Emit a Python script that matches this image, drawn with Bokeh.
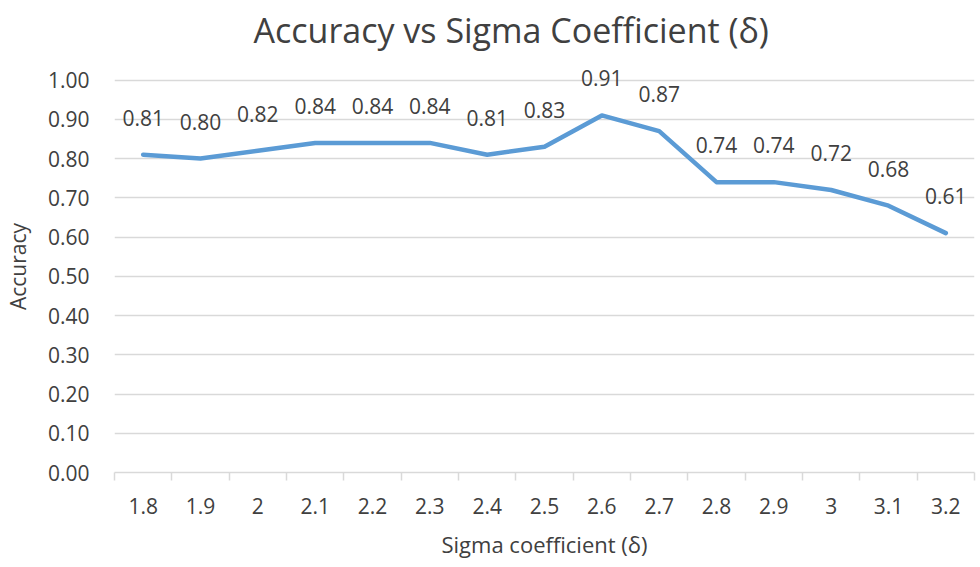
from bokeh.plotting import figure
from bokeh.models import FixedTicker, ColumnDataSource, LabelSet, Range1d, NumeralTickFormatter
from bokeh.core.properties import value
from bokeh.embed import file_html
from bokeh.resources import INLINE

categories = ["1.8", "1.9", "2", "2.1", "2.2", "2.3", "2.4", "2.5", "2.6", "2.7", "2.8", "2.9", "3", "3.1", "3.2"]
accuracy = [0.81, 0.80, 0.82, 0.84, 0.84, 0.84, 0.81, 0.83, 0.91, 0.87, 0.74, 0.74, 0.72, 0.68, 0.61]
y_ticks = [0.0, 0.1, 0.2, 0.3, 0.4, 0.5, 0.6, 0.7, 0.8, 0.9, 1.0]

FONT = "Open Sans"
TXT = "#404040"
GRID = "#d9d9d9"

xs = [i + 0.5 for i in range(len(categories))]
src = ColumnDataSource(dict(x=xs, y=accuracy, lab=["%.2f" % v for v in accuracy]))

p = figure(width=980, height=567, output_backend="svg", toolbar_location=None,
           x_range=Range1d(0, len(categories)), y_range=Range1d(0, 1.05),
           min_border_left=108, min_border_right=6, min_border_top=59, min_border_bottom=95,
           title="Accuracy vs Sigma Coefficient (δ)")
p.outline_line_color = None
p.background_fill_color = "white"

p.title.text_font = FONT
p.title.text_font_size = "34px"
p.title.text_font_style = "normal"
p.title.text_color = TXT
p.title.align = "left"
p.title.vertical_align = "top"
p.title.standoff = 12
p.title.offset = 139

p.line("x", "y", source=src, line_color="#5B9BD5", line_width=4.5, line_join="round", line_cap="round")

labels = LabelSet(x="x", y="y", text="lab", source=src, y_offset=37, text_align="center",
                  text_baseline="middle", text_font=value(FONT), text_font_size=value("21px"),
                  text_color=TXT)
p.add_layout(labels)

# x axis
p.xaxis.ticker = FixedTicker(ticks=xs, minor_ticks=list(range(len(categories) + 1)))
p.xaxis.major_label_overrides = {x: c for x, c in zip(xs, categories)}
p.xaxis.major_tick_line_color = None
p.xaxis.major_tick_out = 0
p.xaxis.major_tick_in = 0
p.xaxis.minor_tick_out = 0
p.xaxis.minor_tick_in = -8
p.xaxis.minor_tick_line_color = GRID
p.xaxis.minor_tick_line_width = 1.5
p.xaxis.axis_line_color = GRID
p.xaxis.axis_line_width = 1.5
p.xaxis.major_label_standoff = 25
p.xaxis.major_label_text_font = FONT
p.xaxis.major_label_text_font_size = "21px"
p.xaxis.major_label_text_color = TXT
p.xaxis.axis_label = "Sigma coefficient (δ)"
p.xaxis.axis_label_text_font = FONT
p.xaxis.axis_label_text_font_size = "22px"
p.xaxis.axis_label_text_font_style = "normal"
p.xaxis.axis_label_text_color = TXT
p.xaxis.axis_label_standoff = 12

# y axis
p.yaxis.ticker = FixedTicker(ticks=y_ticks)
p.yaxis.formatter = NumeralTickFormatter(format="0.00")
p.yaxis.axis_line_color = None
p.yaxis.major_tick_line_color = None
p.yaxis.minor_tick_line_color = None
p.yaxis.major_tick_out = 0
p.yaxis.major_label_standoff = 25
p.yaxis.major_label_text_font = FONT
p.yaxis.major_label_text_font_size = "21px"
p.yaxis.major_label_text_color = TXT
p.yaxis.axis_label = "Accuracy"
p.yaxis.axis_label_text_font = FONT
p.yaxis.axis_label_text_font_size = "21px"
p.yaxis.axis_label_text_font_style = "normal"
p.yaxis.axis_label_text_color = TXT
p.yaxis.axis_label_standoff = 13

p.xgrid.grid_line_color = None
p.ygrid.grid_line_color = GRID
p.ygrid.grid_line_width = 1.5

open("out.html", "w").write(file_html(p, INLINE))
